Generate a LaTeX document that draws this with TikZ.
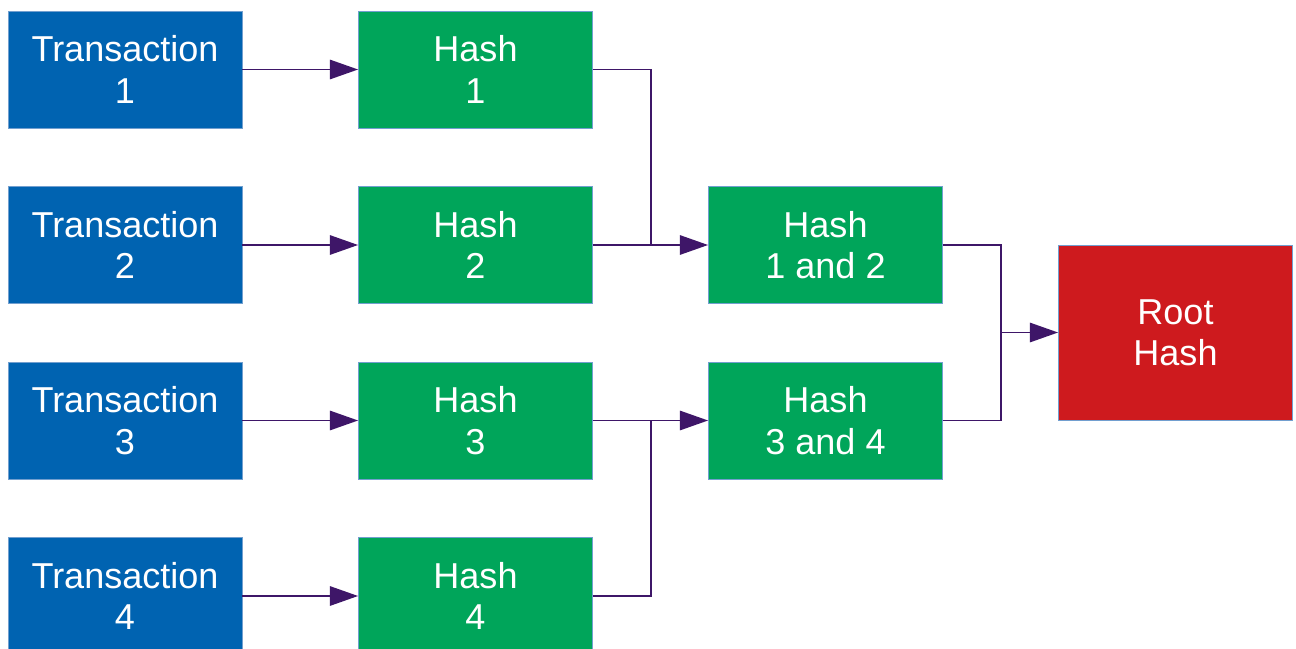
\documentclass[tikz,border=0pt]{standalone}
\usepackage{fontspec}
\setmainfont{Liberation Sans}
\usetikzlibrary{arrows.meta}
\definecolor{txblue}{RGB}{0,99,177}
\definecolor{hgreen}{RGB}{0,165,90}
\definecolor{rred}{RGB}{206,26,30}
\definecolor{edgeblue}{RGB}{114,159,207}
\definecolor{linep}{RGB}{62,22,104}
\tikzset{
  box/.style={draw=edgeblue, line width=0.5pt, minimum width=4.68cm, minimum height=2.34cm,
    inner sep=0pt, align=center, text=white, font=\fontsize{20.5pt}{23.5pt}\selectfont},
  txbox/.style={box, fill=txblue},
  hbox/.style={box, fill=hgreen},
  rbox/.style={box, fill=rred, minimum height=3.5cm},
  conn/.style={draw=linep, line width=1pt},
  arr/.style={conn, -{Triangle[length=16pt,width=11pt]}, shorten >=0pt}
}
\begin{document}
\begin{tikzpicture}[x=0.02cm,y=-0.02cm]
\useasboundingbox (0,0) rectangle (1296,649);
\clip (0,0) rectangle (1296,649);
\fill[white] (0,0) rectangle (1296,649);
\node[txbox] (t1) at (125,69.5) {Transaction\\1};
\node[txbox] (t2) at (125,245) {Transaction\\2};
\node[txbox] (t3) at (125,420.5) {Transaction\\3};
\node[txbox] (t4) at (125,596) {Transaction\\4};
\node[hbox] (h1) at (475.5,69.5) {Hash\\1};
\node[hbox] (h2) at (475.5,245) {Hash\\2};
\node[hbox] (h3) at (475.5,420.5) {Hash\\3};
\node[hbox] (h4) at (475.5,596) {Hash\\4};
\node[hbox] (h12) at (825.5,245) {Hash\\1 and 2};
\node[hbox] (h34) at (825.5,420.5) {Hash\\3 and 4};
\node[rbox] (root) at (1175.5,332.5) {Root\\Hash};
\coordinate (j1) at (651,245);
\coordinate (j2) at (651,420.5);
\coordinate (j3) at (1001,332.5);
\draw[arr] (t1) -- (h1);
\draw[arr] (t2) -- (h2);
\draw[arr] (t3) -- (h3);
\draw[arr] (t4) -- (h4);
\draw[conn] (h1.east) -| (j1);
\draw[conn] (h4.east) -| (j2);
\draw[arr] (h2) -- (h12);
\draw[arr] (h3) -- (h34);
\draw[conn] (h12.east) -| (j3);
\draw[conn] (h34.east) -| (j3);
\draw[arr] (j3) -- (root);
\end{tikzpicture}
\end{document}
